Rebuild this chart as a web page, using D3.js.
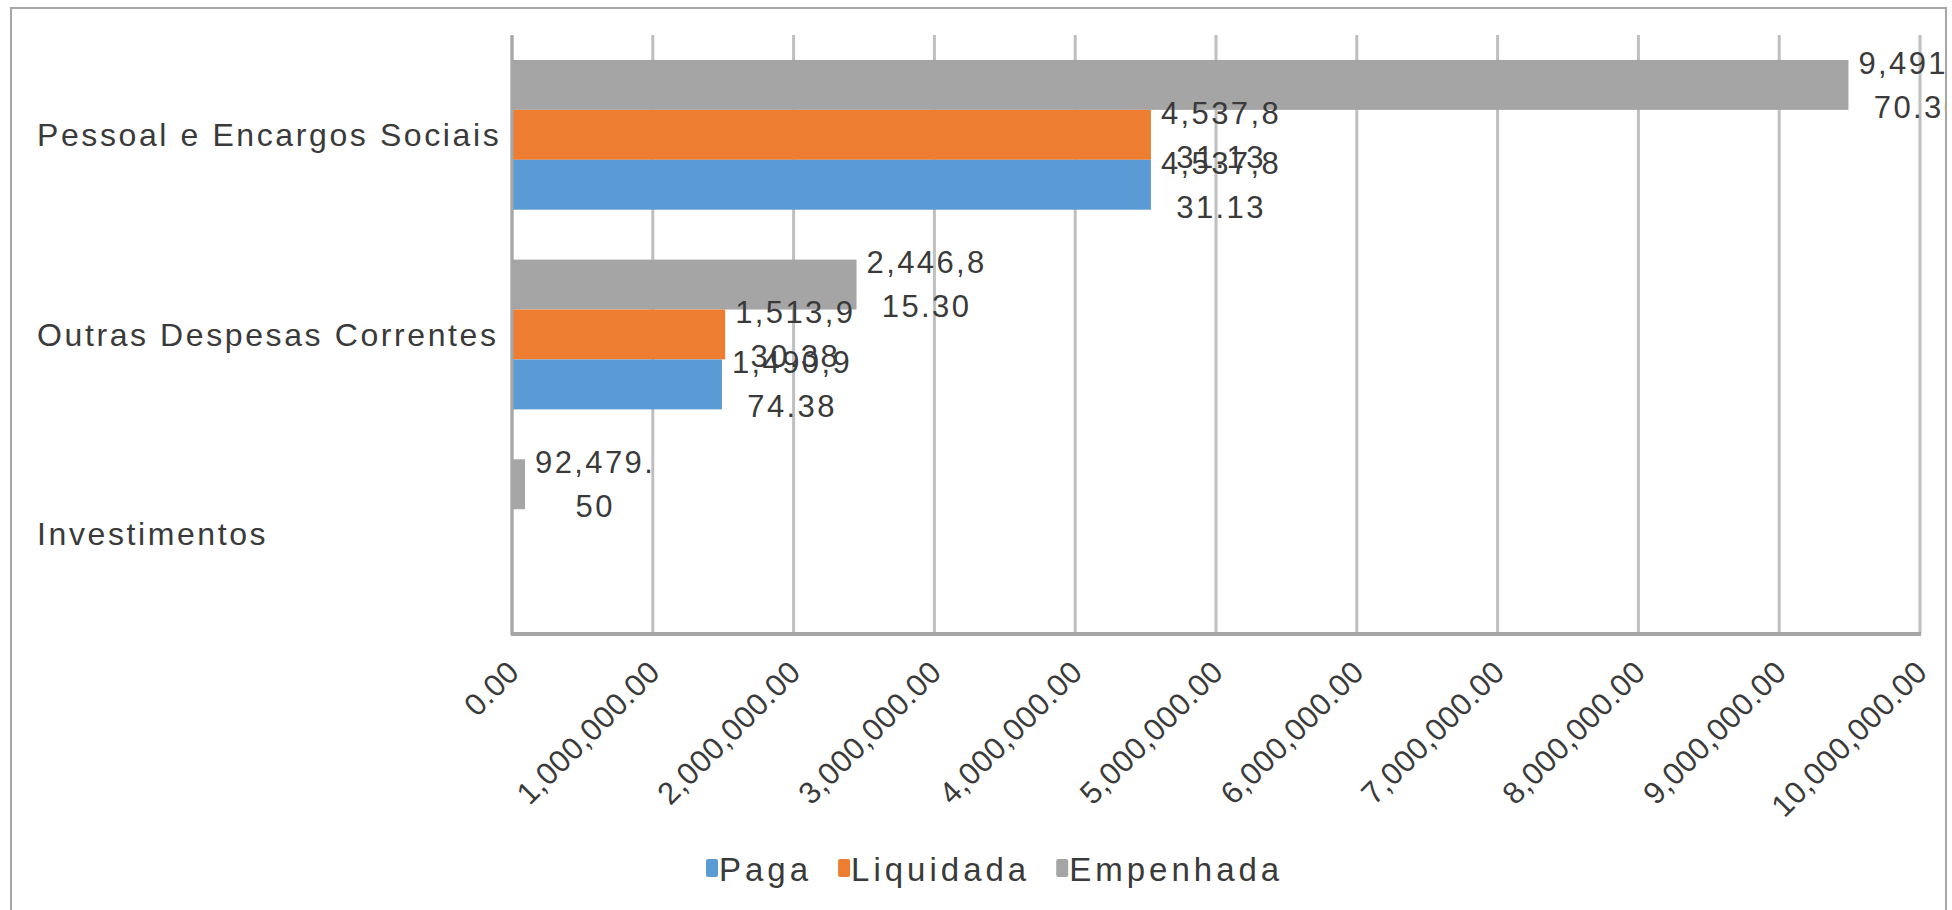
<!DOCTYPE html>
<html>
<head>
<meta charset="utf-8">
<script src="https://cdn.jsdelivr.net/npm/d3@7/dist/d3.min.js"></script>
<style>
  html, body { margin: 0; padding: 0; background: #fff; }
  svg { display: block; }
  text { font-family: "Liberation Sans", Arial, sans-serif; fill: #3a3a3a; }
</style>
</head>
<body>
<svg id="chart" width="1952" height="910"></svg>
<script>
// ---- data ----
const categories = ["Pessoal e Encargos Sociais", "Outras Despesas Correntes", "Investimentos"];
const seriesNames = ["Paga", "Liquidada", "Empenhada"];
const paga      = [4537831.13, 1490974.38, null];
const liquidada = [4537831.13, 1513930.38, null];
const empenhada = [9491770.30, 2446815.30, 92479.50];
const xTicks = [0, 1000000, 2000000, 3000000, 4000000, 5000000, 6000000, 7000000, 8000000, 9000000, 10000000];
const colors = { "Paga": "#5B9BD5", "Liquidada": "#ED7D31", "Empenhada": "#A5A5A5" };

const seriesValues = { "Paga": paga, "Liquidada": liquidada, "Empenhada": empenhada };

const svg = d3.select("#chart");
const plot = { left: 512, right: 1920, top: 35, bottom: 634 };

// outer border
svg.append("rect").attr("x", 11).attr("y", 8).attr("width", 1935).attr("height", 920)
  .attr("fill", "none").attr("stroke", "#a6a6a6").attr("stroke-width", 2);

svg.append("defs").append("clipPath").attr("id", "clip")
  .append("rect").attr("x", 12).attr("y", 9).attr("width", 1933).attr("height", 900);

const x = d3.scaleLinear().domain([0, 10000000]).range([plot.left, plot.right]);
const y0 = d3.scaleBand().domain(categories).range([plot.top, plot.bottom]).paddingInner(0.25).paddingOuter(0.125);
const stackOrder = ["Empenhada", "Liquidada", "Paga"];
const y1 = d3.scaleBand().domain(stackOrder).range([0, y0.bandwidth()]).padding(0);

// gridlines
svg.append("g").selectAll("line").data(xTicks).join("line")
  .attr("x1", d => x(d)).attr("x2", d => x(d))
  .attr("y1", plot.top).attr("y2", plot.bottom)
  .attr("stroke", "#bfbfbf").attr("stroke-width", 3);

const barData = [];
categories.forEach((c, i) => {
  stackOrder.forEach(s => {
    const v = seriesValues[s][i];
    if (v !== null && v !== undefined) barData.push({ cat: c, series: s, value: v });
  });
});

// bars
svg.append("g").selectAll("rect").data(barData).join("rect")
  .attr("x", x(0))
  .attr("y", d => y0(d.cat) + y1(d.series))
  .attr("width", d => x(d.value) - x(0))
  .attr("height", y1.bandwidth())
  .attr("fill", d => colors[d.series]);

// axes lines
svg.append("line").attr("x1", plot.left).attr("x2", plot.left).attr("y1", plot.top).attr("y2", plot.bottom + 1)
  .attr("stroke", "#a6a6a6").attr("stroke-width", 3);
svg.append("line").attr("x1", plot.left - 1).attr("x2", plot.right + 1).attr("y1", plot.bottom).attr("y2", plot.bottom)
  .attr("stroke", "#a6a6a6").attr("stroke-width", 4);

// category labels (left aligned)
svg.append("g").selectAll("text").data(categories).join("text")
  .attr("x", 37)
  .attr("y", d => y0(d) + y0.bandwidth() / 2)
  .attr("dy", "0.35em")
  .style("font-size", "32px").style("letter-spacing", "2.6px")
  .text(d => d);

// x tick labels rotated
const fmt = d3.format(",.2f");
svg.append("g").selectAll("text").data(xTicks).join("text")
  .attr("transform", d => `translate(${x(d) + 9},${plot.bottom + 40}) rotate(-45)`)
  .attr("text-anchor", "end")
  .style("font-size", "31px").style("letter-spacing", "0.5px")
  .text(d => fmt(d));

// data labels (wrapped at 7 chars, centered block)
const labelsG = svg.append("g").attr("clip-path", "url(#clip)");
barData.forEach(d => {
  const s = fmt(d.value);
  const lines = [];
  for (let i = 0; i < s.length; i += 7) lines.push(s.slice(i, i + 7));
  const cy = y0(d.cat) + y1(d.series) + y1.bandwidth() / 2;
  const lh = 44;
  const g = labelsG.append("g");
  const texts = lines.map((ln, k) => g.append("text")
    .style("font-size", "31px").style("letter-spacing", "2.4px")
    .attr("text-anchor", "middle")
    .attr("y", cy + (k - (lines.length - 1) / 2) * lh)
    .attr("dy", "0.35em")
    .text(ln));
  const wMax = d3.max(texts, t => t.node().getComputedTextLength());
  const left = x(d.value) + 10;
  texts.forEach(t => t.attr("x", left + wMax / 2));
});

// legend
const legend = svg.append("g");
let lx = 706;
const ly = 869;
seriesNames.forEach(n => {
  legend.append("rect").attr("x", lx).attr("y", ly - 10).attr("width", 12).attr("height", 18)
    .attr("rx", 2).attr("fill", colors[n]);
  const t = legend.append("text").attr("x", lx + 13).attr("y", ly).attr("dy", "0.35em")
    .style("font-size", "33px").style("letter-spacing", "4px").text(n);
  lx += 13 + t.node().getComputedTextLength() + 26;
});
</script>
</body>
</html>
